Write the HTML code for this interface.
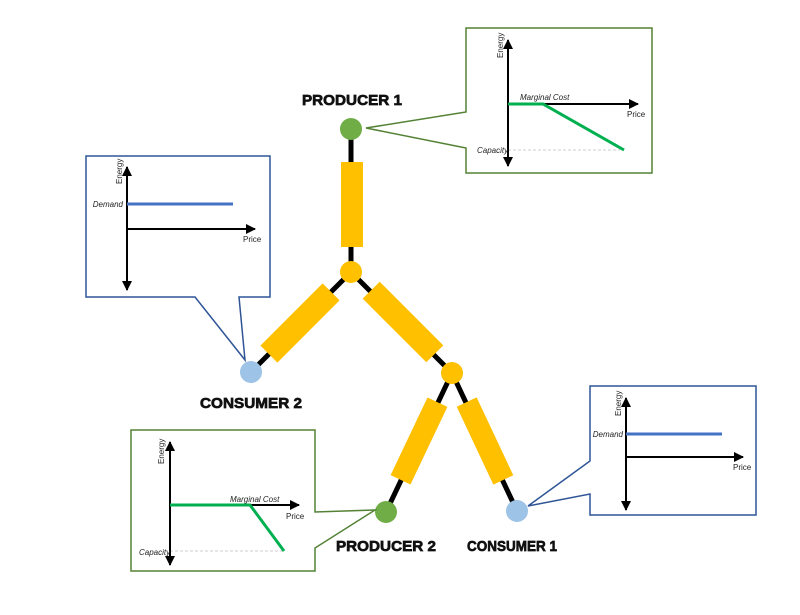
<!DOCTYPE html>
<html><head><meta charset="utf-8"><style>
html,body{margin:0;padding:0;background:#fff;}
svg{display:block;font-family:"Liberation Sans",sans-serif;}
.lab{font-weight:bold;font-size:15px;fill:#111;stroke:#111;stroke-width:0.7px}
.s{font-size:8px;fill:#222}
.i{font-size:8px;fill:#222;font-style:italic}
</style></head><body>
<svg width="800" height="615" viewBox="0 0 800 615" xmlns="http://www.w3.org/2000/svg">
<defs>
<marker id="a" viewBox="0 0 10 10" refX="9" refY="5" markerWidth="5" markerHeight="5" orient="auto-start-reverse"><path d="M0,0L10,5L0,10z" fill="#000"/></marker>
</defs>
<g stroke="#000" stroke-width="5">
<line x1="351" y1="129" x2="351" y2="272"/>
<line x1="351" y1="272" x2="251" y2="372"/>
<line x1="351" y1="272" x2="452" y2="373"/>
<line x1="452" y1="373" x2="386" y2="512"/>
<line x1="452" y1="373" x2="517" y2="511"/>
</g>
<g fill="#FFC000">
<rect x="341" y="162" width="22" height="85"/>
<rect x="-44" y="-12" width="88" height="24" transform="translate(300,323) rotate(-45)"/>
<rect x="-45" y="-12" width="90" height="24" transform="translate(403,322) rotate(45)"/>
<rect x="-43" y="-11" width="86" height="22" transform="translate(419,441) rotate(-64.6)"/>
<rect x="-43" y="-11" width="86" height="22" transform="translate(485,441) rotate(64.8)"/>
<circle cx="351" cy="272" r="11"/>
<circle cx="452" cy="373" r="11"/>
</g>
<circle cx="351" cy="129" r="11" fill="#70AD47"/>
<circle cx="386" cy="512" r="11" fill="#70AD47"/>
<circle cx="251" cy="372" r="11" fill="#9DC3E6"/>
<circle cx="517" cy="511" r="11" fill="#9DC3E6"/>
<text class="lab" x="352" y="105" text-anchor="middle" textLength="100" lengthAdjust="spacingAndGlyphs">PRODUCER 1</text>
<text class="lab" x="251" y="408" text-anchor="middle" textLength="102" lengthAdjust="spacingAndGlyphs">CONSUMER 2</text>
<text class="lab" x="386" y="551" text-anchor="middle" textLength="100" lengthAdjust="spacingAndGlyphs">PRODUCER 2</text>
<text class="lab" x="512" y="551" text-anchor="middle" textLength="90" lengthAdjust="spacingAndGlyphs">CONSUMER 1</text>

<path d="M466,28 H652 V173 H466 V148 L366,128 L466,112 Z" fill="#fff" stroke="#548235" stroke-width="1.5"/>
<line x1="508" y1="150" x2="620" y2="150" stroke="#ccc" stroke-width="1" stroke-dasharray="3,2"/>
<line x1="508" y1="166" x2="508" y2="40" stroke="#000" stroke-width="2" marker-start="url(#a)" marker-end="url(#a)"/>
<line x1="508" y1="104" x2="638" y2="104" stroke="#000" stroke-width="2" marker-end="url(#a)"/>
<polyline points="508,104 543,104 624,150" fill="none" stroke="#00B050" stroke-width="3"/>
<text class="i" x="520" y="100">Marginal Cost</text>
<text class="s" x="627" y="117">Price</text>
<text class="i" x="477" y="153">Capacity</text>
<text class="s" transform="translate(503,58) rotate(-90)">Energy</text>

<path d="M86,156 H270 V297 H239 L245,360 L195,297 H86 Z" fill="#fff" stroke="#2F5597" stroke-width="1.5"/>
<line x1="127" y1="290" x2="127" y2="167" stroke="#000" stroke-width="2" marker-start="url(#a)" marker-end="url(#a)"/>
<line x1="127" y1="229" x2="255" y2="229" stroke="#000" stroke-width="2" marker-end="url(#a)"/>
<line x1="127" y1="204" x2="233" y2="204" stroke="#4472C4" stroke-width="3"/>
<text class="i" x="123" y="207" text-anchor="end">Demand</text>
<text class="s" x="243" y="242">Price</text>
<text class="s" transform="translate(122,184) rotate(-90)">Energy</text>

<path d="M131,430 H315 V512 L375,510 L315,548 V571 H131 Z" fill="#fff" stroke="#548235" stroke-width="1.5"/>
<line x1="170" y1="551" x2="284" y2="551" stroke="#ccc" stroke-width="1" stroke-dasharray="3,2"/>
<line x1="170" y1="565" x2="170" y2="442" stroke="#000" stroke-width="2" marker-start="url(#a)" marker-end="url(#a)"/>
<line x1="170" y1="505" x2="299" y2="505" stroke="#000" stroke-width="2" marker-end="url(#a)"/>
<polyline points="170,505 250,505 284,551" fill="none" stroke="#00B050" stroke-width="3"/>
<text class="i" x="230" y="502">Marginal Cost</text>
<text class="s" x="286" y="519">Price</text>
<text class="i" x="139" y="555">Capacity</text>
<text class="s" transform="translate(164,464) rotate(-90)">Energy</text>

<path d="M590,386 H756 V515 H590 V494 L528,506 L590,461 Z" fill="#fff" stroke="#2F5597" stroke-width="1.5"/>
<line x1="626" y1="510" x2="626" y2="398" stroke="#000" stroke-width="2" marker-start="url(#a)" marker-end="url(#a)"/>
<line x1="626" y1="457" x2="743" y2="457" stroke="#000" stroke-width="2" marker-end="url(#a)"/>
<line x1="626" y1="434" x2="722" y2="434" stroke="#4472C4" stroke-width="3"/>
<text class="i" x="623" y="437" text-anchor="end">Demand</text>
<text class="s" x="733" y="470">Price</text>
<text class="s" transform="translate(621,416) rotate(-90)">Energy</text>
</svg>
</body></html>
